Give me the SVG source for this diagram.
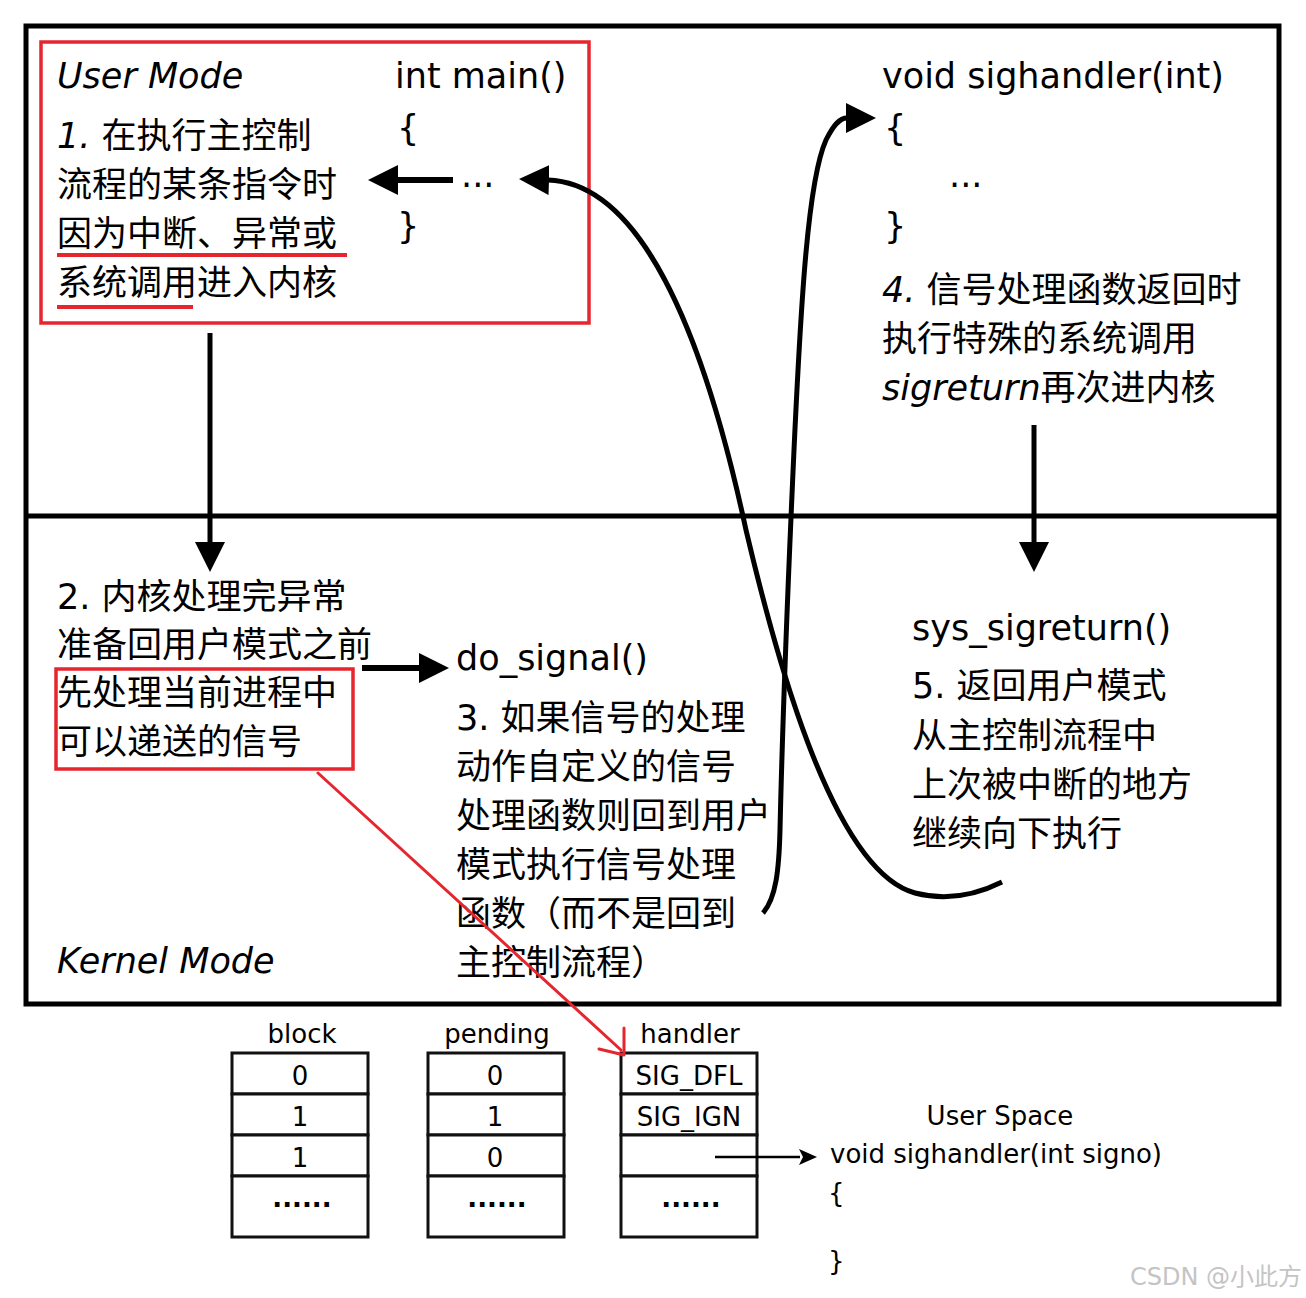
<svg xmlns="http://www.w3.org/2000/svg" width="1306" height="1298" viewBox="0 0 1306 1298">
<style>
.t{font-family:"DejaVu Sans","Noto Sans CJK SC",sans-serif;font-size:35px;fill:#000}
.i{font-style:italic}
.s{font-family:"DejaVu Sans","Noto Sans CJK SC",sans-serif;font-size:26px;fill:#000}
.m{text-anchor:middle}
.b{font-weight:bold}
.frame{fill:none;stroke:#000;stroke-width:5}
.red{fill:none;stroke:#e6262e;stroke-width:3.5}
.conn{fill:none;stroke:#000;stroke-width:5}
.thick{fill:none;stroke:#000;stroke-width:6}
.cell{fill:#fff;stroke:#111;stroke-width:3}
.redl{fill:none;stroke:#e6262e;stroke-width:3;stroke-linecap:round}
</style>
<defs>
<marker id="ah" markerUnits="userSpaceOnUse" markerWidth="30" markerHeight="30" refX="1" refY="15" orient="auto-start-reverse" viewBox="0 0 30 30">
<path d="M0,0 L30,15 L0,30 z" fill="#000"/>
</marker>
<marker id="ahs" markerUnits="userSpaceOnUse" markerWidth="18" markerHeight="16" refX="1" refY="8" orient="auto" viewBox="0 0 18 16">
<path d="M0,0 L18,8 L0,16 L4,8 z" fill="#000"/>
</marker>
</defs>

<rect width="1306" height="1298" fill="#fff"/>

<g id="frame">
<rect class="frame" x="26" y="26" width="1253" height="978"/>
<line class="frame" x1="26" y1="516" x2="1279" y2="516"/>
</g>

<g id="user-mode">
<rect class="red" x="41" y="42" width="548" height="281"/>
<text class="t i" x="57" y="88">User Mode</text>
<text class="t" x="57" y="148"><tspan class="i">1.</tspan> 在执行主控制</text>
<text class="t" x="57" y="197">流程的某条指令时</text>
<text class="t" x="57" y="246">因为中断、异常或</text>
<text class="t" x="57" y="295">系统调用进入内核</text>
<line x1="57" y1="255" x2="347" y2="255" stroke="#e6262e" stroke-width="4"/>
<line x1="57" y1="307" x2="193" y2="307" stroke="#e6262e" stroke-width="4"/>
</g>

<g id="main">
<text class="t" x="395" y="88">int main()</text>
<text class="t" x="397" y="140">{</text>
<text class="t" x="461" y="187">...</text>
<text class="t" x="397" y="238">}</text>
</g>

<g id="sighandler">
<text class="t" x="882" y="88">void sighandler(int)</text>
<text class="t" x="884" y="140">{</text>
<text class="t" x="949" y="187">...</text>
<text class="t" x="884" y="238">}</text>
<text class="t" x="882" y="302"><tspan class="i">4.</tspan> 信号处理函数返回时</text>
<text class="t" x="882" y="351">执行特殊的系统调用</text>
<text class="t" x="882" y="400"><tspan class="i">sigreturn</tspan>再次进内核</text>
</g>

<g id="kernel-step2">
<text class="t" x="57" y="609">2. 内核处理完异常</text>
<text class="t" x="57" y="657">准备回用户模式之前</text>
<text class="t" x="57" y="705">先处理当前进程中</text>
<text class="t" x="57" y="754">可以递送的信号</text>
<rect class="red" x="56" y="669" width="297" height="100"/>
</g>

<g id="do-signal">
<text class="t" x="456" y="670">do_signal()</text>
<text class="t" x="456" y="730">3. 如果信号的处理</text>
<text class="t" x="456" y="779">动作自定义的信号</text>
<text class="t" x="456" y="828">处理函数则回到用户</text>
<text class="t" x="456" y="877">模式执行信号处理</text>
<text class="t" x="456" y="926">函数（而不是回到</text>
<text class="t" x="456" y="975">主控制流程）</text>
</g>

<g id="kernel-mode-label">
<text class="t i" x="57" y="973">Kernel Mode</text>
</g>

<g id="sys-sigreturn">
<text class="t" x="912" y="640">sys_sigreturn()</text>
<text class="t" x="912" y="698">5. 返回用户模式</text>
<text class="t" x="912" y="748">从主控制流程中</text>
<text class="t" x="912" y="797">上次被中断的地方</text>
<text class="t" x="912" y="846">继续向下执行</text>
</g>

<g id="table-block">
<text class="s m" x="302" y="1043">block</text>
<rect class="cell" x="232" y="1053" width="136" height="41"/>
<rect class="cell" x="232" y="1094" width="136" height="41"/>
<rect class="cell" x="232" y="1135" width="136" height="41"/>
<rect class="cell" x="232" y="1176" width="136" height="61"/>
<text class="s m" x="300" y="1085">0</text>
<text class="s m" x="300" y="1126">1</text>
<text class="s m" x="300" y="1167">1</text>
<text class="s m b" x="302" y="1207">......</text>
</g>

<g id="table-pending">
<text class="s m" x="497" y="1043">pending</text>
<rect class="cell" x="428" y="1053" width="136" height="41"/>
<rect class="cell" x="428" y="1094" width="136" height="41"/>
<rect class="cell" x="428" y="1135" width="136" height="41"/>
<rect class="cell" x="428" y="1176" width="136" height="61"/>
<text class="s m" x="495" y="1085">0</text>
<text class="s m" x="495" y="1126">1</text>
<text class="s m" x="495" y="1167">0</text>
<text class="s m b" x="497" y="1207">......</text>
</g>

<g id="table-handler">
<text class="s m" x="690" y="1043">handler</text>
<rect class="cell" x="621" y="1053" width="136" height="41"/>
<rect class="cell" x="621" y="1094" width="136" height="41"/>
<rect class="cell" x="621" y="1135" width="136" height="41"/>
<rect class="cell" x="621" y="1176" width="136" height="61"/>
<text class="s m" x="689" y="1085">SIG_DFL</text>
<text class="s m" x="689" y="1126">SIG_IGN</text>
<text class="s m b" x="691" y="1207">......</text>
</g>

<g id="user-space">
<text class="s m" x="1000" y="1125">User Space</text>
<text class="s" x="830" y="1163">void sighandler(int signo)</text>
<text class="s" x="828" y="1202">{</text>
<text class="s" x="828" y="1270">}</text>
</g>

<g id="watermark">
<text x="1130" y="1285" style="font-family:'DejaVu Sans','Noto Sans CJK SC',sans-serif;font-size:24px;fill:#c4c4c4">CSDN @小此方</text>
</g>

<g id="connectors">
<line class="thick" x1="453" y1="180" x2="397" y2="180" marker-end="url(#ah)"/>
<path class="conn" d="M548,180 C640,183 703,330 746,530 C772,640 830,870 915,893 C950,902 980,893 1002,882" marker-start="url(#ah)"/>
<path class="conn" d="M763,913 C776,898 779,870 780,830 C783,700 789,560 794,450 C801,300 808,180 826,140 C834,124 840,118 847,118" marker-end="url(#ah)"/>
<line class="conn" x1="210" y1="333" x2="210" y2="543" marker-end="url(#ah)"/>
<line class="conn" x1="1034" y1="425" x2="1034" y2="543" marker-end="url(#ah)"/>
<line class="thick" x1="362" y1="668" x2="420" y2="668" marker-end="url(#ah)"/>
<line x1="715" y1="1157" x2="800" y2="1157" stroke="#000" stroke-width="2.5" marker-end="url(#ahs)"/>
<path class="redl" d="M318,773 L621,1050"/>
<path class="redl" d="M624,1028 L624,1055 M599,1049 L624,1055"/>
</g>
</svg>
